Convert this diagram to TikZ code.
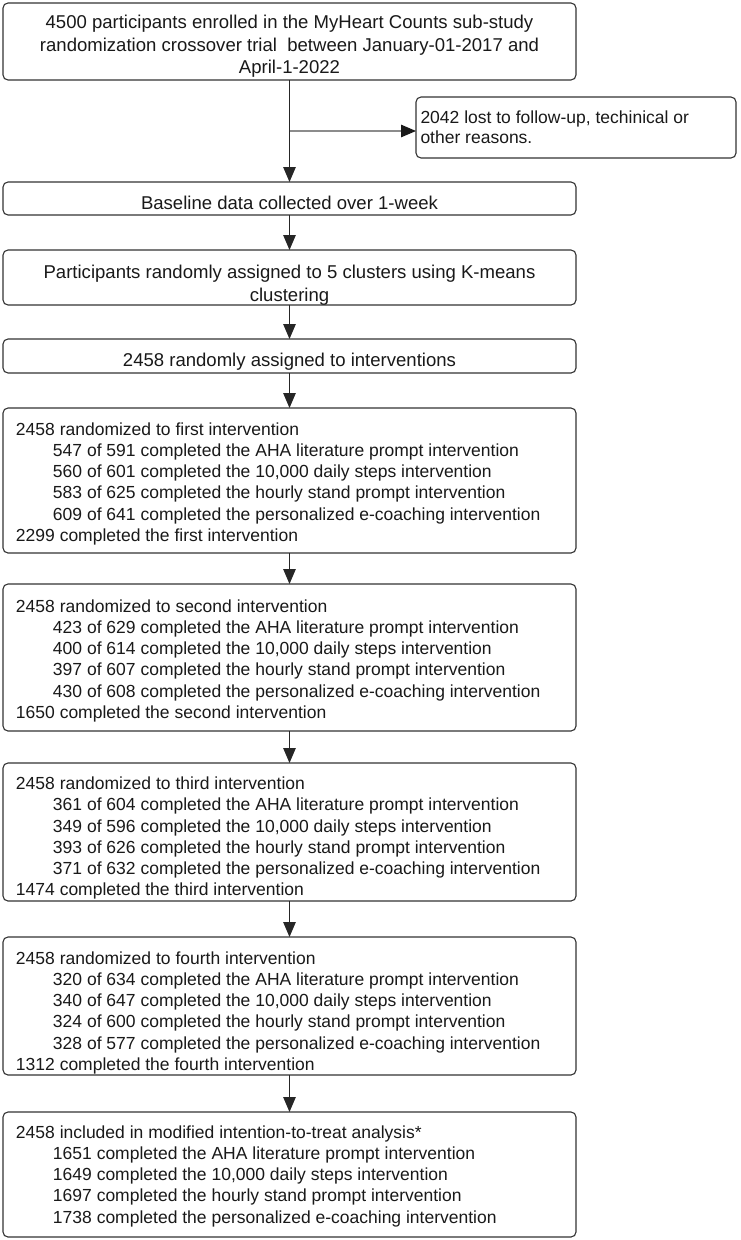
\documentclass[tikz,border=0pt]{standalone}
\usepackage{fontspec}
\setmainfont{Liberation Sans}
\usetikzlibrary{arrows.meta}
\begin{document}
\begin{tikzpicture}[x=1pt,y=-1pt,
  box/.style={draw=black!80, line width=1.1pt, rounded corners=5pt, inner sep=0pt, outer sep=0pt, fill=white},
  txt/.style={inner sep=0pt, outer sep=0pt, font=\fontsize{17.5pt}{21.2pt}\selectfont, text=black!90},
  ctxt/.style={txt, anchor=north, align=center, font=\fontsize{18.55pt}{22.3pt}\selectfont},
  arr/.style={draw=black!85, line width=1.1pt, -{Triangle[length=15pt,width=12.5pt]}},
  sidearr/.style={draw=black!45, line width=1.1pt, -{Triangle[length=15pt,width=12.5pt,color=black!90]}}]
\fill[white] (0,0) rectangle (740,1240);
\useasboundingbox (0,0) rectangle (740,1240);
% boxes
\node[box, minimum width=573pt, minimum height=77pt] (b1) at (289.5,41.5) {};
\node[box, minimum width=320pt, minimum height=61pt] (side) at (576,127.5) {};
\node[box, minimum width=573pt, minimum height=33pt] (b2) at (289.5,198.5) {};
\node[box, minimum width=573pt, minimum height=55pt] (b3) at (289.5,277.5) {};
\node[box, minimum width=573pt, minimum height=34pt] (b4) at (289.5,356) {};
\node[box, minimum width=573pt, minimum height=145pt] (b5) at (289.5,480.5) {};
\node[box, minimum width=573pt, minimum height=147pt] (b6) at (289.5,657.5) {};
\node[box, minimum width=573pt, minimum height=138pt] (b7) at (289.5,832) {};
\node[box, minimum width=573pt, minimum height=138pt] (b8) at (289.5,1006) {};
\node[box, minimum width=573pt, minimum height=125pt] (b9) at (289.5,1174.5) {};
% texts
\node[ctxt] (t1) at (289.5,15.3)
  {4500 participants enrolled in the MyHeart Counts sub-study\\randomization crossover trial~ between January-01-2017 and\\April-1-2022};
\node[txt, anchor=north west, align=left, font=\fontsize{17.5pt}{20.8pt}\selectfont] (ts) at (420.5,110.5)
  {2042 lost to follow-up, techinical or\\other reasons.};
\node[ctxt] (t2) at (289.5,196.3) {Baseline data collected over 1-week};
\node[ctxt] (t3) at (289.5,265.3)
  {Participants randomly assigned to 5 clusters using K-means\\clustering};
\node[ctxt] (t4) at (289.5,353.3) {2458 randomly assigned to interventions};
\node[txt, anchor=north west, align=left] (t5) at (16,422.7)
  {2458 randomized to first intervention\\
   \hspace*{37pt}547 of 591 completed the AHA literature prompt intervention\\
   \hspace*{37pt}560 of 601 completed the 10,000 daily steps intervention\\
   \hspace*{37pt}583 of 625 completed the hourly stand prompt intervention\\
   \hspace*{37pt}609 of 641 completed the personalized e-coaching intervention\\
   2299 completed the first intervention};
\node[txt, anchor=north west, align=left] (t6) at (16,599.7)
  {2458 randomized to second intervention\\
   \hspace*{37pt}423 of 629 completed the AHA literature prompt intervention\\
   \hspace*{37pt}400 of 614 completed the 10,000 daily steps intervention\\
   \hspace*{37pt}397 of 607 completed the hourly stand prompt intervention\\
   \hspace*{37pt}430 of 608 completed the personalized e-coaching intervention\\
   1650 completed the second intervention};
\node[txt, anchor=north west, align=left] (t7) at (16,777)
  {2458 randomized to third intervention\\
   \hspace*{37pt}361 of 604 completed the AHA literature prompt intervention\\
   \hspace*{37pt}349 of 596 completed the 10,000 daily steps intervention\\
   \hspace*{37pt}393 of 626 completed the hourly stand prompt intervention\\
   \hspace*{37pt}371 of 632 completed the personalized e-coaching intervention\\
   1474 completed the third intervention};
\node[txt, anchor=north west, align=left] (t8) at (16,951.7)
  {2458 randomized to fourth intervention\\
   \hspace*{37pt}320 of 634 completed the AHA literature prompt intervention\\
   \hspace*{37pt}340 of 647 completed the 10,000 daily steps intervention\\
   \hspace*{37pt}324 of 600 completed the hourly stand prompt intervention\\
   \hspace*{37pt}328 of 577 completed the personalized e-coaching intervention\\
   1312 completed the fourth intervention};
\node[txt, anchor=north west, align=left] (t9) at (16,1125.7)
  {2458 included in modified intention-to-treat analysis*\\
   \hspace*{37pt}1651 completed the AHA literature prompt intervention\\
   \hspace*{37pt}1649 completed the 10,000 daily steps intervention\\
   \hspace*{37pt}1697 completed the hourly stand prompt intervention\\
   \hspace*{37pt}1738 completed the personalized e-coaching intervention};
% connectors
\coordinate (br) at (289.5,131);
\draw[arr] (b1.south) -- (b2.north);
\draw[sidearr] (br) -- (side.west |- br);
\draw[arr] (b2.south) -- (b3.north);
\draw[arr] (b3.south) -- (b4.north);
\draw[arr] (b4.south) -- (b5.north);
\draw[arr] (b5.south) -- (b6.north);
\draw[arr] (b6.south) -- (b7.north);
\draw[arr] (b7.south) -- (b8.north);
\draw[arr] (b8.south) -- (b9.north);
\end{tikzpicture}
\end{document}
